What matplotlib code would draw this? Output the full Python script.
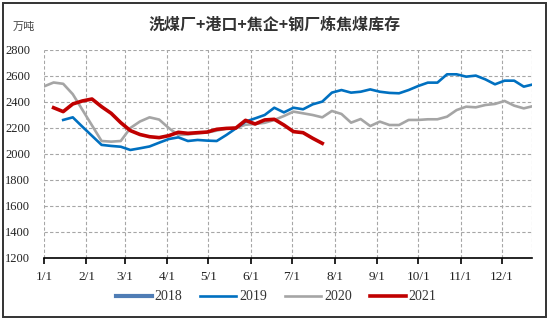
import numpy as np
import matplotlib
matplotlib.use("Agg")
import matplotlib.pyplot as plt
from matplotlib.patches import Rectangle

plt.rcParams['font.family'] = ['Liberation Serif', 'Noto Sans CJK SC', 'DejaVu Sans']

# Weekly coking-coal inventory (万吨), x = day of year
month_labels = ['1/1', '2/1', '3/1', '4/1', '5/1', '6/1', '7/1', '8/1', '9/1', '10/1', '11/1', '12/1']
month_days = [0, 31, 59, 90, 120, 151, 181, 212, 243, 273, 304, 334]

start_2018 = 0
vals_2018 = []

start_2019 = 14
vals_2019 = [2262, 2282, 2210, 2140, 2070, 2062, 2056, 2031, 2044, 2058,
             2087, 2115, 2128, 2100, 2108, 2103, 2100, 2146, 2197, 2249,
             2274, 2300, 2356, 2320, 2356, 2344, 2382, 2403, 2472, 2492,
             2472, 2479, 2497, 2479, 2470, 2467, 2492, 2523, 2549, 2549,
             2613, 2613, 2595, 2603, 2574, 2536, 2564, 2564, 2518, 2536]

start_2020 = 0
vals_2020 = [2520, 2550, 2540, 2460, 2340, 2220, 2100, 2095, 2100, 2200,
             2250, 2282, 2265, 2200, 2146, 2150, 2160, 2165, 2180, 2195,
             2200, 2225, 2231, 2240, 2262, 2292, 2326, 2313, 2300, 2282,
             2331, 2308, 2241, 2269, 2215, 2249, 2223, 2223, 2262, 2262,
             2267, 2267, 2287, 2338, 2364, 2359, 2377, 2385, 2408, 2372,
             2351, 2369]

start_2021 = 7
vals_2021 = [2356, 2326, 2385, 2408, 2423, 2364, 2313, 2241, 2180, 2150,
             2133, 2126, 2141, 2167, 2159, 2164, 2169, 2190, 2197, 2200,
             2259, 2231, 2262, 2267, 2223, 2172, 2164, 2121, 2082]

y_ticks = [1200, 1400, 1600, 1800, 2000, 2200, 2400, 2600, 2800]


def weekly_days(start, vals):
    return start + 7 * np.arange(len(vals))


fig = plt.figure(figsize=(5.5, 3.22), dpi=100)
ax = fig.add_axes([44 / 550, 64 / 322, 488 / 550, 208 / 322])

ax.plot(weekly_days(start_2020, vals_2020), vals_2020, color='#A5A5A5', lw=1.9, label='2020', zorder=3)
ax.plot(weekly_days(start_2019, vals_2019), vals_2019, color='#0070C0', lw=1.9, label='2019', zorder=4)
ax.plot(weekly_days(start_2018, vals_2018), vals_2018, color='#4F7DB5', lw=3.0, label='2018', zorder=2)
ax.plot(weekly_days(start_2021, vals_2021), vals_2021, color='#C00000', lw=2.6, label='2021', zorder=5)

ax.set_xlim(0, 356)
ax.set_ylim(1200, 2800)
ax.set_xticks(month_days)
ax.set_xticklabels(month_labels)
ax.set_yticks(y_ticks)

ax.grid(True, color='#A6A6A6', linestyle=(0, (3, 2)), linewidth=0.8)
ax.axvline(356, color='#A6A6A6', linestyle=(0, (3, 2)), linewidth=0.8, zorder=1)
for s in ['left', 'right', 'top']:
    ax.spines[s].set_visible(False)
ax.spines['bottom'].set_color('#000000')
ax.spines['bottom'].set_linewidth(1.2)
ax.tick_params(axis='y', length=0, pad=10, labelsize=9, labelcolor='#222222')
ax.tick_params(axis='x', length=4, width=1.2, direction='out', pad=5, labelsize=9.5,
               labelcolor='#222222')

handles, labels = ax.get_legend_handles_labels()
order = [labels.index(k) for k in ['2018', '2019', '2020', '2021']]
fig.legend([handles[i] for i in order], [labels[i] for i in order],
           loc='center', bbox_to_anchor=(276 / 550, 1 - 297 / 322), ncol=4,
           frameon=False, fontsize=10, handlelength=2.6, handletextpad=0.2,
           columnspacing=1.3, labelcolor='#333333')

fig.text(275 / 550, 1 - 25 / 322, '洗煤厂+港口+焦企+钢厂炼焦煤库存', ha='center', va='center',
         fontsize=11.5, fontweight='bold', color='#333333',
         family=['Noto Sans CJK SC', 'DejaVu Sans'])
fig.text(13 / 550, 1 - 27 / 322, '万吨', ha='left', va='center', fontsize=8,
         color='#444444', family=['Noto Sans CJK SC', 'DejaVu Sans'])

fig.patches.append(Rectangle((3 / 550, 5 / 322), 543 / 550, 314 / 322, transform=fig.transFigure,
                             fill=False, edgecolor='#333333', linewidth=1.4))

fig.savefig('out.png', dpi=100)
